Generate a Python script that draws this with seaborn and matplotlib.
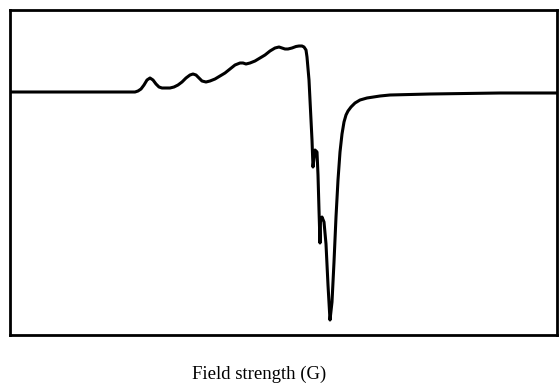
import matplotlib
matplotlib.use("Agg")
import matplotlib.pyplot as plt
import seaborn as sns
import pandas as pd

# EPR derivative trace: field position (relative G) and signal (arb. units, baseline = 0)
field = [0, 125, 128, 131, 134, 137, 140, 143, 146, 149, 152, 156, 160, 164, 168,
         172, 176, 180, 183, 186, 189, 192, 196, 200, 205, 210, 215, 220, 225, 230,
         233, 236, 240, 245, 250, 255, 260, 265, 269, 272, 275, 278, 282, 286, 289,
         292, 294, 296, 297, 299, 301, 302, 303, 305, 307, 308, 309, 310, 310.5,
         312, 314, 316, 318, 320, 322, 324, 326, 328, 330, 332, 334, 336, 338, 341,
         345, 350, 357, 370, 380, 420, 490, 547]
signal = [0, 0, 1, 3, 7, 12, 14, 12, 8, 5, 4, 4, 4, 5, 7,
          10, 14, 17, 18, 17, 14, 11, 10, 11, 13, 16, 19, 23, 27, 29,
          29, 28, 29, 31, 34, 37, 41, 44, 45, 44, 43, 43, 44, 45.5, 46,
          46, 45, 42, 35, 12, -28, -48, -75, -58, -60, -83, -118, -151, -128,
          -125, -130, -152, -193, -228, -210, -170, -125, -88, -60, -42, -30, -23, -19, -15,
          -11, -8, -6, -4, -3, -2, -1, -1]

df = pd.DataFrame({"field": field, "signal": signal})

sns.set_theme(style="white")
plt.rcParams["font.family"] = ["Liberation Serif", "DejaVu Serif"]

fig = plt.figure(figsize=(5.59, 3.85), dpi=100)
ax = fig.add_axes([10 / 559, 50 / 385, 547 / 559, 325 / 385])

sns.lineplot(data=df, x="field", y="signal", sort=False, estimator=None,
             color="black", linewidth=2.2, ax=ax)

ax.set_xlim(0, 547)
ax.set_ylim(-243, 82)
ax.set_xticks([])
ax.set_yticks([])
ax.set_ylabel("")
for side in ["left", "right", "top", "bottom"]:
    ax.spines[side].set_visible(True)
    ax.spines[side].set_color("black")
    ax.spines[side].set_linewidth(2.0)

ax.set_xlabel("Field strength (G)", fontsize=13.5, color="black")
ax.xaxis.set_label_coords(0.455, -0.093)

fig.savefig("out.png", dpi=100, facecolor="white")
